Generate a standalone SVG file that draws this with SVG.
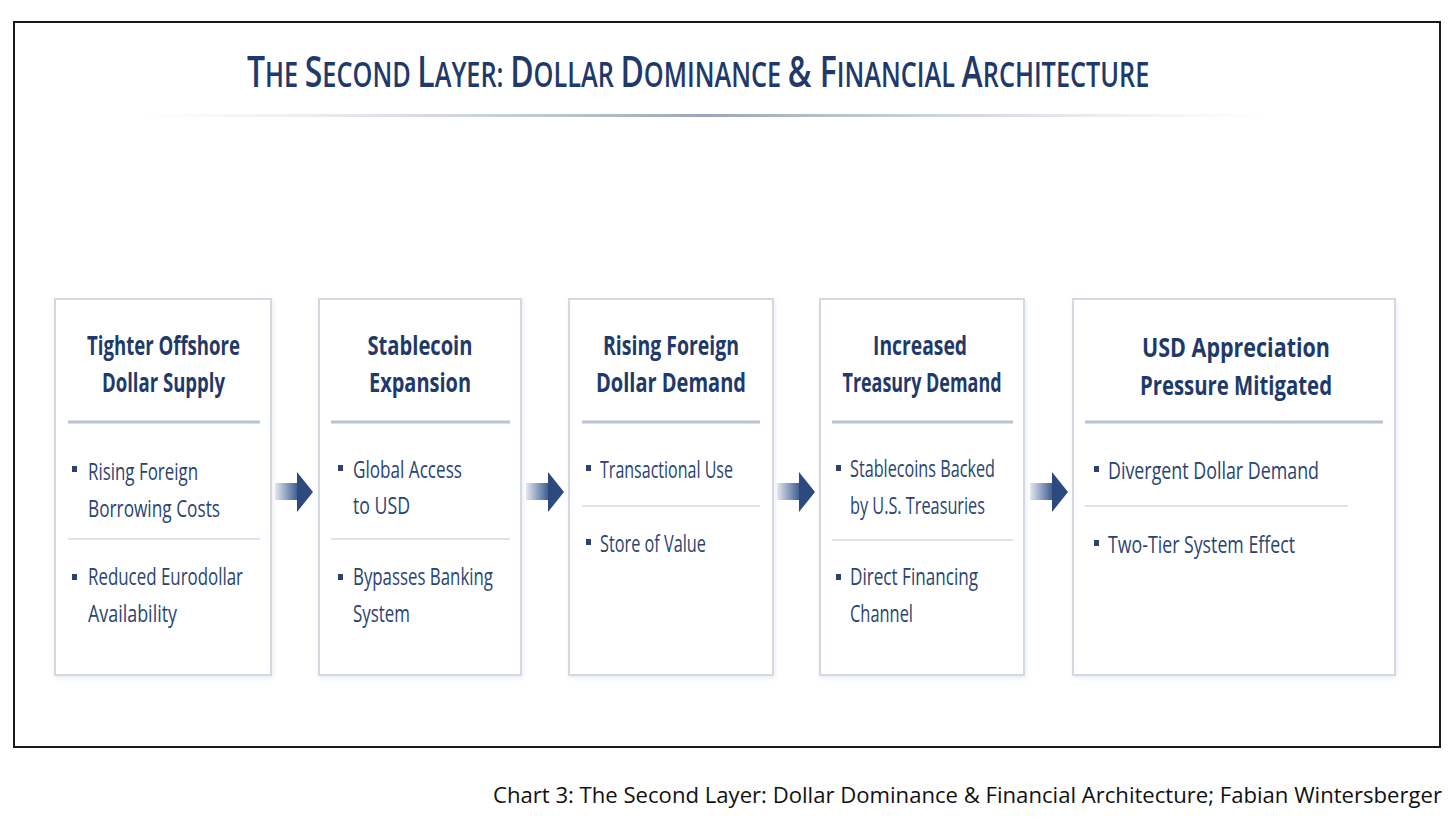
<svg xmlns="http://www.w3.org/2000/svg" width="1456" height="821" viewBox="0 0 1456 821">
<style>
.frame{fill:#fff;stroke:#1a1a1a;stroke-width:2}
.box{fill:#fff;stroke:#d2d9e3;stroke-width:2}
.title{font-family:"Open Sans","Liberation Sans",sans-serif;font-weight:600;fill:#1f3a6a}
.big{font-size:43px}
.sm{font-size:34px}
.hd{font-family:"Open Sans","Liberation Sans",sans-serif;font-weight:700;font-size:27px;fill:#1f3a6a;text-anchor:middle}
.bt{font-family:"Open Sans","Liberation Sans",sans-serif;font-weight:400;font-size:24px;fill:#2a4472}
.div1{stroke:#b9c4d3;stroke-width:3}
.div2{stroke:#dde3ea;stroke-width:2}
.bul{fill:#2a4472}
.cap{font-family:"Open Sans","Liberation Sans",sans-serif;font-size:22px;fill:#111}
.head{fill:#2c4a7e}
</style>
<defs>
<linearGradient id="ul" x1="0" y1="0" x2="1" y2="0">
<stop offset="0" stop-color="#c5ccd8" stop-opacity="0"/>
<stop offset="0.5" stop-color="#9aa6b8"/>
<stop offset="1" stop-color="#c5ccd8" stop-opacity="0"/>
</linearGradient>
<linearGradient id="shaft" x1="0" y1="0" x2="1" y2="0">
<stop offset="0" stop-color="#e3e8f0"/>
<stop offset="1" stop-color="#3a5a8e"/>
</linearGradient>
<filter id="sh" x="-5%" y="-5%" width="110%" height="110%">
<feDropShadow dx="1" dy="2" stdDeviation="2" flood-color="#8090a8" flood-opacity="0.18"/>
</filter>
</defs>
<rect class="frame" x="14" y="22" width="1426" height="725"/>
<text class="title" transform="translate(247,87) scale(0.744,1)" x="0" y="0"><tspan class="big">T</tspan><tspan class="sm">HE </tspan><tspan class="big">S</tspan><tspan class="sm">ECOND </tspan><tspan class="big">L</tspan><tspan class="sm">AYER: </tspan><tspan class="big">D</tspan><tspan class="sm">OLLAR </tspan><tspan class="big">D</tspan><tspan class="sm">OMINANCE </tspan><tspan class="big">&amp; F</tspan><tspan class="sm">INANCIAL </tspan><tspan class="big">A</tspan><tspan class="sm">RCHITECTURE</tspan></text>
<rect x="140" y="114" width="1130" height="3" fill="url(#ul)"/>

<g id="node1">
<rect class="box" filter="url(#sh)" x="55" y="299" width="216" height="376"/>
<text class="hd" x="163.5" y="355" textLength="153" lengthAdjust="spacingAndGlyphs">Tighter Offshore</text>
<text class="hd" x="163.5" y="392" textLength="123" lengthAdjust="spacingAndGlyphs">Dollar Supply</text>
<line class="div1" x1="68" y1="422" x2="260" y2="422"/>
<rect class="bul" x="72" y="466" width="5" height="6"/>
<text class="bt" x="88" y="480" textLength="110" lengthAdjust="spacingAndGlyphs">Rising Foreign</text>
<text class="bt" x="88" y="517" textLength="132" lengthAdjust="spacingAndGlyphs">Borrowing Costs</text>
<line class="div2" x1="68" y1="539" x2="260" y2="539"/>
<rect class="bul" x="72" y="574" width="5" height="6"/>
<text class="bt" x="88" y="585" textLength="155" lengthAdjust="spacingAndGlyphs">Reduced Eurodollar</text>
<text class="bt" x="88" y="622" textLength="89" lengthAdjust="spacingAndGlyphs">Availability</text>
</g>

<g id="node2">
<rect class="box" filter="url(#sh)" x="319" y="299" width="202" height="376"/>
<text class="hd" x="420" y="355" textLength="105" lengthAdjust="spacingAndGlyphs">Stablecoin</text>
<text class="hd" x="420" y="392" textLength="102" lengthAdjust="spacingAndGlyphs">Expansion</text>
<line class="div1" x1="331" y1="422" x2="510" y2="422"/>
<rect class="bul" x="338" y="465" width="5" height="6"/>
<text class="bt" x="353" y="478" textLength="109" lengthAdjust="spacingAndGlyphs">Global Access</text>
<text class="bt" x="353" y="514" textLength="57" lengthAdjust="spacingAndGlyphs">to USD</text>
<line class="div2" x1="331" y1="539" x2="510" y2="539"/>
<rect class="bul" x="338" y="574" width="5" height="6"/>
<text class="bt" x="353" y="585" textLength="140" lengthAdjust="spacingAndGlyphs">Bypasses Banking</text>
<text class="bt" x="353" y="622" textLength="57" lengthAdjust="spacingAndGlyphs">System</text>
</g>

<g id="node3">
<rect class="box" filter="url(#sh)" x="569" y="299" width="204" height="376"/>
<text class="hd" x="671" y="355" textLength="136" lengthAdjust="spacingAndGlyphs">Rising Foreign</text>
<text class="hd" x="671" y="392" textLength="150" lengthAdjust="spacingAndGlyphs">Dollar Demand</text>
<line class="div1" x1="582" y1="422" x2="760" y2="422"/>
<rect class="bul" x="586" y="465" width="5" height="6"/>
<text class="bt" x="600" y="478" textLength="133" lengthAdjust="spacingAndGlyphs">Transactional Use</text>
<line class="div2" x1="582" y1="506" x2="760" y2="506"/>
<rect class="bul" x="586" y="539" width="5" height="6"/>
<text class="bt" x="600" y="552" textLength="106" lengthAdjust="spacingAndGlyphs">Store of Value</text>
</g>

<g id="node4">
<rect class="box" filter="url(#sh)" x="820" y="299" width="204" height="376"/>
<text class="hd" x="920" y="355" textLength="94" lengthAdjust="spacingAndGlyphs">Increased</text>
<text class="hd" x="922" y="392" textLength="159" lengthAdjust="spacingAndGlyphs">Treasury Demand</text>
<line class="div1" x1="832" y1="422" x2="1013" y2="422"/>
<rect class="bul" x="836" y="465" width="5" height="6"/>
<text class="bt" x="850" y="477" textLength="145" lengthAdjust="spacingAndGlyphs">Stablecoins Backed</text>
<text class="bt" x="850" y="514" textLength="135" lengthAdjust="spacingAndGlyphs">by U.S. Treasuries</text>
<line class="div2" x1="832" y1="540" x2="1013" y2="540"/>
<rect class="bul" x="836" y="574" width="5" height="6"/>
<text class="bt" x="850" y="585" textLength="128" lengthAdjust="spacingAndGlyphs">Direct Financing</text>
<text class="bt" x="850" y="622" textLength="63" lengthAdjust="spacingAndGlyphs">Channel</text>
</g>

<g id="node5">
<rect class="box" filter="url(#sh)" x="1073" y="299" width="322" height="376"/>
<text class="hd" x="1236" y="357" textLength="188" lengthAdjust="spacingAndGlyphs">USD Appreciation</text>
<text class="hd" x="1236" y="395" textLength="192" lengthAdjust="spacingAndGlyphs">Pressure Mitigated</text>
<line class="div1" x1="1085" y1="422" x2="1383" y2="422"/>
<rect class="bul" x="1094" y="466" width="5" height="6"/>
<text class="bt" x="1108" y="479" textLength="211" lengthAdjust="spacingAndGlyphs">Divergent Dollar Demand</text>
<line class="div2" x1="1085" y1="506" x2="1348" y2="506"/>
<rect class="bul" x="1094" y="540" width="5" height="6"/>
<text class="bt" x="1108" y="553" textLength="187" lengthAdjust="spacingAndGlyphs">Two-Tier System Effect</text>
</g>

<g id="connectors">
<g transform="translate(275,0)"><rect x="0" y="483" width="23" height="17" fill="url(#shaft)"/><polygon class="head" points="22,472 38,492 22,512"/></g>
<g transform="translate(526,0)"><rect x="0" y="483" width="23" height="17" fill="url(#shaft)"/><polygon class="head" points="22,472 38,492 22,512"/></g>
<g transform="translate(777,0)"><rect x="0" y="483" width="23" height="17" fill="url(#shaft)"/><polygon class="head" points="22,472 38,492 22,512"/></g>
<g transform="translate(1030,0)"><rect x="0" y="483" width="23" height="17" fill="url(#shaft)"/><polygon class="head" points="22,472 38,492 22,512"/></g>
</g>

<text class="cap" x="493" y="803" textLength="949" lengthAdjust="spacingAndGlyphs">Chart 3: The Second Layer: Dollar Dominance &amp; Financial Architecture; Fabian Wintersberger</text>
</svg>
